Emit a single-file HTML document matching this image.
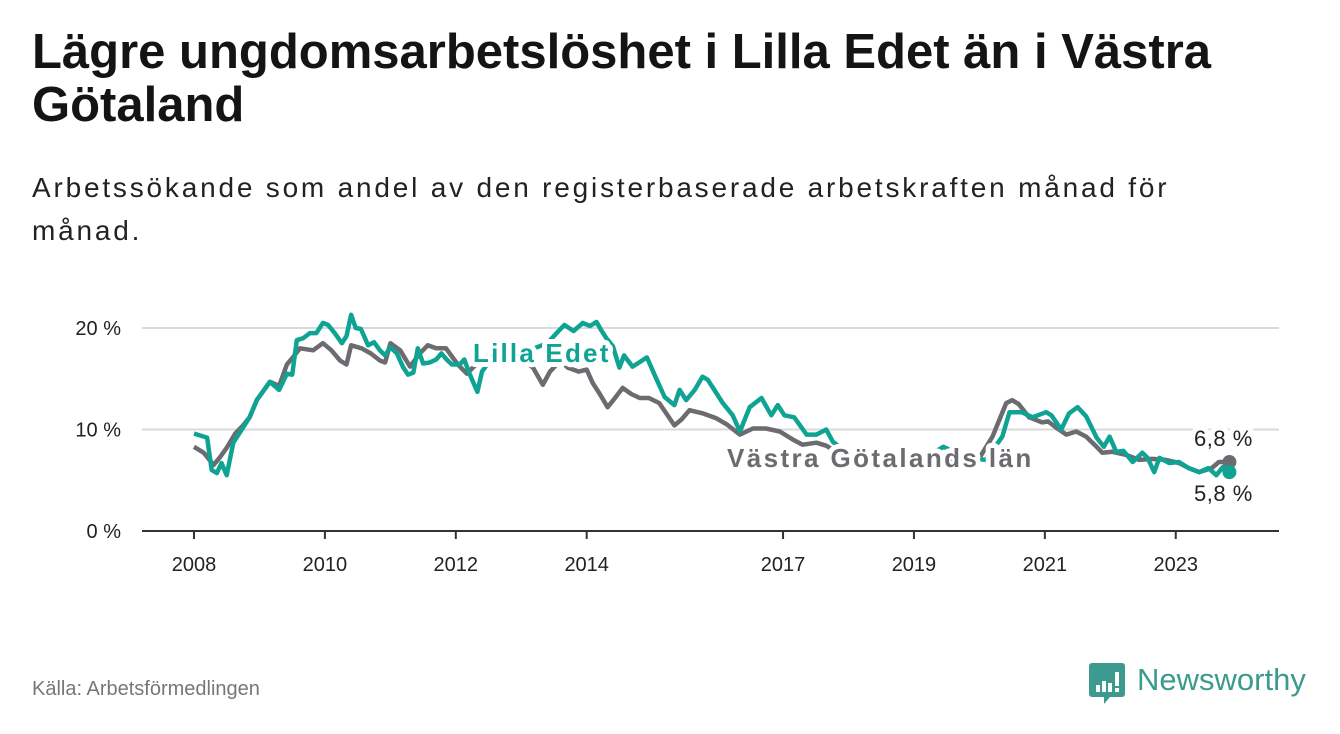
<!DOCTYPE html>
<html><head><meta charset="utf-8">
<style>
body{margin:0;background:#fff;width:1340px;height:734px;overflow:hidden;font-family:"Liberation Sans",sans-serif}
#title{position:absolute;left:32px;top:26px;width:1300px;font-size:49px;font-weight:bold;line-height:53px;color:#141414;margin:0;white-space:nowrap}
#sub{position:absolute;left:32px;top:166px;width:1300px;font-size:28px;letter-spacing:2.8px;line-height:43px;color:#222;margin:0;white-space:nowrap}
#src{position:absolute;left:32px;top:678px;font-size:20px;color:#777}
#logo{position:absolute;left:1088px;top:660px}
</style></head><body>
<h1 id="title">Lägre ungdomsarbetslöshet i Lilla Edet än i Västra<br>Götaland</h1>
<p id="sub">Arbetssökande som andel av den registerbaserade arbetskraften månad för<br>månad.</p>
<div id="src">Källa: Arbetsförmedlingen</div>
<svg id="logo" width="230" height="50">
<path d="M4 3h30a3 3 0 0 1 3 3v28a3 3 0 0 1-3 3H22l-6 7v-7H4a3 3 0 0 1-3-3V6a3 3 0 0 1 3-3z" fill="#3d9a8f"/>
<rect x="8" y="25" width="4" height="7" fill="#fff"/><rect x="14" y="21" width="4" height="11" fill="#fff"/><rect x="20" y="23" width="4" height="9" fill="#fff"/><rect x="27" y="12" width="4" height="14" fill="#fff"/><rect x="27" y="28" width="4" height="4" fill="#fff"/>
<text x="49" y="30" font-size="31" fill="#3d9a8f" font-family="Liberation Sans, sans-serif">Newsworthy</text>
</svg>
<svg id="chart" width="1340" height="734" style="position:absolute;left:0;top:0"></svg>
<script>
const yTicks=[0,10,20];
const yTickLabels=["0 %","10 %","20 %"];
const xTicks=[2008,2010,2012,2014,2017,2019,2021,2023];
const xTickLabels=["2008","2010","2012","2014","2017","2019","2021","2023"];
const lillaDates=[2008.0,2008.15,2008.2,2008.27,2008.35,2008.42,2008.5,2008.6,2008.73,2008.85,2008.96,2009.16,2009.3,2009.42,2009.5,2009.57,2009.67,2009.77,2009.87,2009.97,2010.05,2010.15,2010.26,2010.33,2010.4,2010.47,2010.55,2010.66,2010.75,2010.84,2010.92,2011.0,2011.1,2011.19,2011.27,2011.35,2011.42,2011.5,2011.6,2011.7,2011.78,2011.86,2011.94,2012.06,2012.13,2012.21,2012.33,2012.4,2012.6,2012.8,2013.0,2013.2,2013.4,2013.54,2013.66,2013.8,2013.94,2014.05,2014.15,2014.22,2014.3,2014.4,2014.5,2014.57,2014.7,2014.8,2014.92,2015.05,2015.19,2015.34,2015.42,2015.52,2015.65,2015.77,2015.85,2015.95,2016.08,2016.23,2016.34,2016.49,2016.67,2016.82,2016.92,2017.02,2017.17,2017.36,2017.51,2017.66,2017.76,2018.0,2018.3,2018.6,2018.9,2019.2,2019.45,2019.8,2020.1,2020.35,2020.46,2020.65,2020.81,2021.02,2021.1,2021.25,2021.37,2021.5,2021.63,2021.79,2021.9,2021.99,2022.09,2022.2,2022.34,2022.49,2022.57,2022.67,2022.75,2022.9,2023.05,2023.2,2023.36,2023.5,2023.62,2023.72,2023.82];
const lillaValues=[9.6,9.3,9.2,6.0,5.7,6.7,5.5,8.7,10.0,11.2,12.9,14.7,13.9,15.5,15.4,18.8,19.0,19.5,19.5,20.5,20.3,19.5,18.5,19.2,21.3,20.0,19.9,18.3,18.6,17.8,17.3,18.1,17.5,16.2,15.4,15.6,18.0,16.5,16.6,16.9,17.5,16.9,16.4,16.4,16.9,15.5,13.7,15.7,17.5,18.0,17.8,18.0,18.5,19.5,20.3,19.7,20.5,20.2,20.6,19.8,19.0,18.2,16.1,17.3,16.2,16.6,17.1,15.2,13.2,12.4,13.9,12.9,13.9,15.2,14.9,13.9,12.6,11.4,9.8,12.2,13.1,11.4,12.4,11.4,11.2,9.5,9.5,10.0,8.8,7.6,7.4,7.5,7.2,7.3,8.3,7.2,7.0,9.3,11.7,11.7,11.2,11.7,11.4,10.0,11.6,12.2,11.3,9.2,8.3,9.3,7.8,7.9,6.8,7.7,7.2,5.8,7.2,6.7,6.8,6.2,5.8,6.2,5.5,6.3,5.8];
const vgDates=[2008.0,2008.15,2008.3,2008.4,2008.5,2008.63,2008.75,2008.85,2008.96,2009.16,2009.3,2009.42,2009.51,2009.62,2009.82,2009.97,2010.1,2010.23,2010.33,2010.4,2010.56,2010.7,2010.84,2010.92,2011.0,2011.15,2011.3,2011.45,2011.57,2011.7,2011.85,2012.03,2012.17,2012.4,2012.6,2012.8,2013.0,2013.18,2013.33,2013.44,2013.6,2013.71,2013.88,2014.0,2014.09,2014.2,2014.32,2014.42,2014.55,2014.68,2014.81,2014.95,2015.11,2015.34,2015.45,2015.57,2015.77,2015.98,2016.14,2016.34,2016.54,2016.74,2016.95,2017.15,2017.3,2017.51,2017.66,2017.9,2018.2,2018.5,2018.8,2019.1,2019.4,2019.7,2020.0,2020.2,2020.41,2020.5,2020.6,2020.76,2020.96,2021.05,2021.17,2021.33,2021.48,2021.63,2021.79,2021.88,2022.03,2022.24,2022.44,2022.64,2022.85,2023.05,2023.2,2023.36,2023.55,2023.66,2023.82];
const vgValues=[8.3,7.7,6.5,7.3,8.2,9.6,10.4,11.2,12.9,14.7,14.3,16.4,17.1,18.0,17.8,18.5,17.8,16.8,16.4,18.3,18.0,17.5,16.8,16.6,18.5,17.8,16.2,17.5,18.3,18.0,18.0,16.4,15.5,17.0,17.5,17.3,17.0,16.1,14.4,15.7,16.8,16.1,15.7,15.9,14.6,13.5,12.2,13.0,14.1,13.5,13.1,13.1,12.6,10.4,11.0,11.9,11.6,11.1,10.5,9.5,10.1,10.1,9.8,9.0,8.5,8.7,8.4,7.5,7.3,7.1,7.0,6.9,6.8,6.9,7.2,9.3,12.6,12.9,12.5,11.2,10.7,10.8,10.2,9.5,9.8,9.3,8.3,7.7,7.8,7.5,7.0,7.1,7.0,6.7,6.2,5.8,6.2,6.8,6.8];
const NS="http://www.w3.org/2000/svg";
const svg=document.getElementById('chart');
const x=v=>194+(v-2008)*65.45;
const y=v=>531-v*10.15;
function mk(t,a){const e=document.createElementNS(NS,t);for(const k in a)e.setAttribute(k,a[k]);svg.appendChild(e);return e;}
yTicks.forEach((t,i)=>{
  if(t>0){const g=mk('line',{x1:142,x2:1279,y1:y(t),y2:y(t),stroke:'#d9d9d9','stroke-width':2});
  
  }
  const l=mk('text',{x:121,y:y(t)+7,'text-anchor':'end','font-size':20,fill:'#222'});l.textContent=yTickLabels[i];
  
  
});
const ax=mk('line',{x1:142,x2:1279,y1:y(0),y2:y(0),stroke:'#333','stroke-width':2});


xTicks.forEach((t,i)=>{
  const tk=mk('line',{x1:x(t),x2:x(t),y1:531,y2:539,stroke:'#333','stroke-width':2});
  
  
  const l=mk('text',{x:x(t),y:571,'text-anchor':'middle','font-size':20,fill:'#222'});l.textContent=xTickLabels[i];
  
  
});
function line(d,v,c,name){
  const p=mk('path',{d:d.map((t,i)=>(i?'L':'M')+x(t).toFixed(1)+' '+y(v[i]).toFixed(1)).join(''),fill:'none',stroke:c,'stroke-width':4.5,'stroke-linejoin':'round'});
  
  
  const n=d.length-1;
  const c2=mk('circle',{cx:x(d[n]),cy:y(v[n]),r:7,fill:c});
  
  
}
line(vgDates,vgValues,'#6c6b70','vastra-gotaland-line');
line(lillaDates,lillaValues,'#0fa394','lilla-edet-line');
function lab(txt,xx,yy,c,fs,w,ls,name){
  const t=mk('text',{x:xx,y:yy,'font-size':fs,'font-weight':w,fill:c,stroke:'#fff','stroke-width':10,'paint-order':'stroke','stroke-linejoin':'round','letter-spacing':ls});
  t.textContent=txt;
  
  
}
lab('Lilla Edet',473,362,'#0fa394',26,'bold',2.2,'lilla-edet-label');
lab('Västra Götalands län',727,467,'#6c6b70',26,'bold',2.4,'vastra-gotaland-label');
lab('6,8 %',1194,446,'#222',22,'normal',0.5,'vg-end-value');
lab('5,8 %',1194,501,'#222',22,'normal',0.5,'lilla-end-value');
</script>
</body></html>
